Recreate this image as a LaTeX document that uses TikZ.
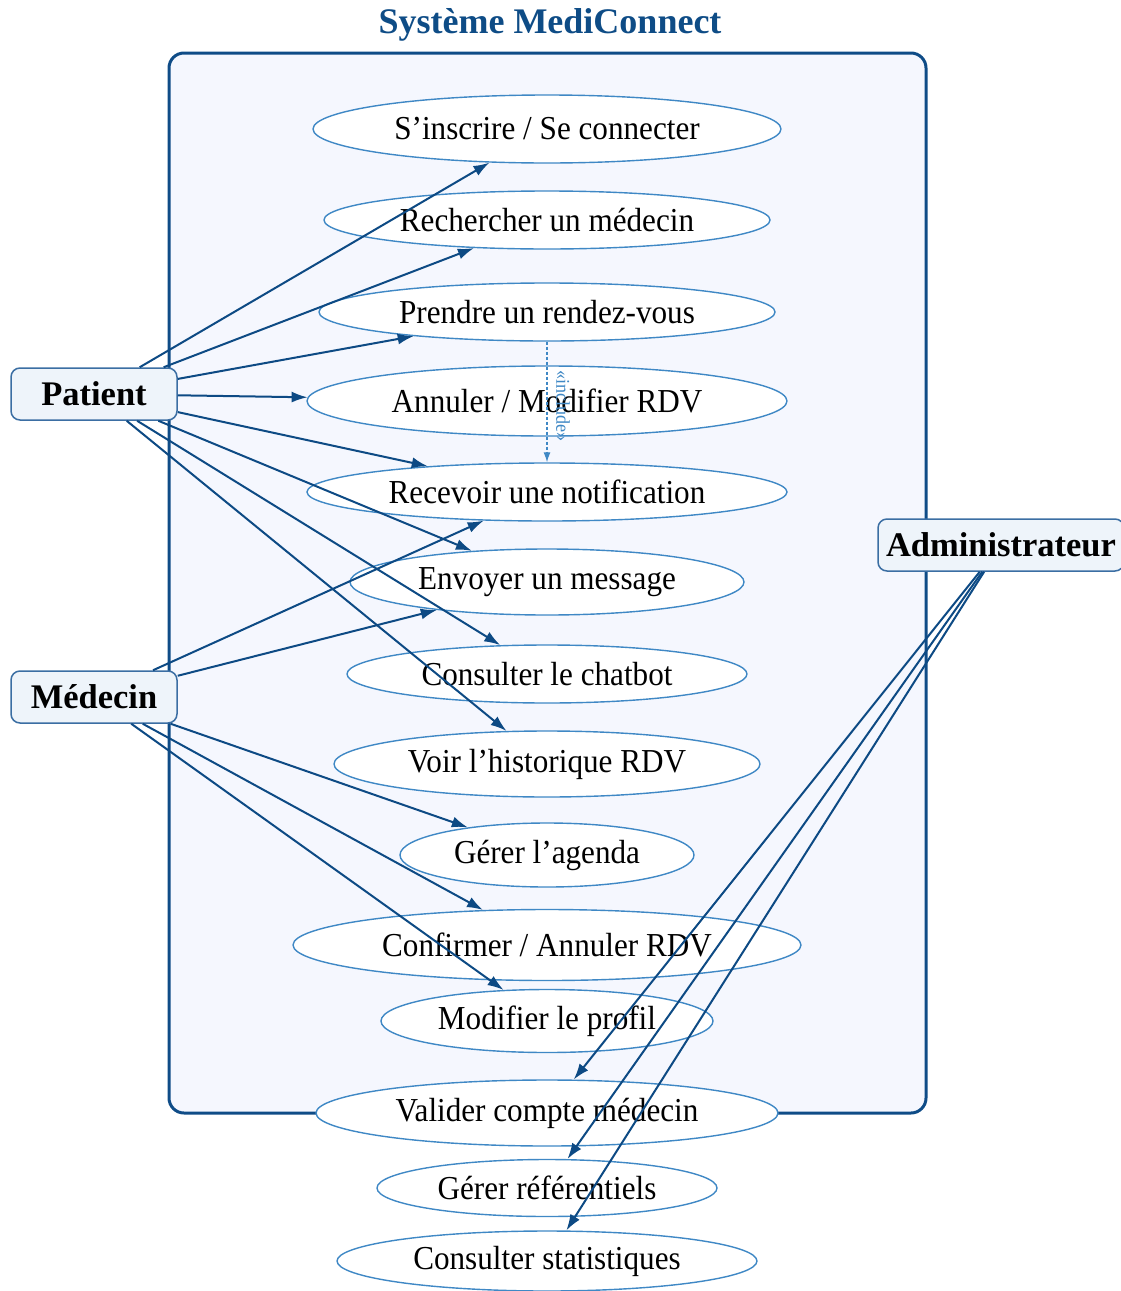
\documentclass[tikz,border=0pt]{standalone}
\usepackage{fontspec}
\setmainfont{Liberation Serif}
\newfontfamily\ucfont[FakeStretch=0.93]{Liberation Serif}
\usetikzlibrary{shapes.geometric,arrows.meta}

\definecolor{sysborder}{HTML}{0F4C87}
\definecolor{sysfill}{HTML}{F5F7FE}
\definecolor{ucborder}{HTML}{3F88C5}
\definecolor{linkcol}{HTML}{0D4A84}
\definecolor{actorfill}{HTML}{EEF4FA}
\definecolor{actorborder}{HTML}{3B6EA3}
\definecolor{titlecol}{HTML}{0E4C86}

\tikzset{
  sysbox/.style={draw=sysborder, fill=sysfill, line width=3pt, rounded corners=15pt,
    rectangle, inner sep=0pt},
  usecase/.style={ellipse, draw=ucborder, fill=white, line width=1.4pt, inner sep=0pt,
    font=\ucfont\fontsize{33.5}{36}\selectfont, text=black},
  actor/.style={rectangle, rounded corners=9pt, draw=actorborder, fill=actorfill,
    line width=1.5pt, minimum height=52pt, inner sep=0pt,
    font=\bfseries\fontsize{34.5}{36}\selectfont},
  assoc/.style={draw=linkcol, line width=2pt,
    -{Latex[length=16pt,width=11pt]}, shorten >=0pt},
  incl/.style={draw=ucborder, line width=1.2pt, dash pattern=on 3pt off 2pt,
    -{Latex[length=10pt,width=7pt]}}
}

\begin{document}
\begin{tikzpicture}[x=1pt,y=-1pt]
\useasboundingbox (0,0) rectangle (1121,1291);

% title
\node[font=\bfseries\fontsize{36}{40}\selectfont, text=titlecol] (title) at (550,25) {Système MediConnect};

% system boundary
\node[sysbox, minimum width=757pt, minimum height=1060pt] (sys) at (547.5,583) {};

% use cases
\node[usecase, minimum width=468pt, minimum height=68pt] (uc1)  at (547,129)  {S’inscrire / Se connecter};
\node[usecase, minimum width=446pt, minimum height=58pt] (uc2)  at (547,220)  {Rechercher un médecin};
\node[usecase, minimum width=456pt, minimum height=58pt] (uc3)  at (547,312)  {Prendre un rendez-vous};
\node[usecase, minimum width=480pt, minimum height=70pt] (uc4)  at (547,401)  {Annuler / Modifier RDV};
\node[usecase, minimum width=480pt, minimum height=58pt] (uc5)  at (547,492)  {Recevoir une notification};
\node[usecase, minimum width=394pt, minimum height=66pt] (uc6)  at (547,582)  {Envoyer un message};
\node[usecase, minimum width=400pt, minimum height=58pt] (uc7)  at (547,674)  {Consulter le chatbot};
\node[usecase, minimum width=426pt, minimum height=66pt] (uc8)  at (547,764)  {Voir l’historique RDV};
\node[usecase, minimum width=294pt, minimum height=64pt] (uc9)  at (547,855)  {Gérer l’agenda};
\node[usecase, minimum width=508pt, minimum height=71pt] (uc10) at (547,945)  {Confirmer / Annuler RDV};
\node[usecase, minimum width=332pt, minimum height=63pt] (uc11) at (547,1021) {Modifier le profil};
\node[usecase, minimum width=462pt, minimum height=66pt] (uc12) at (547,1113) {Valider compte médecin};
\node[usecase, minimum width=340pt, minimum height=57pt] (uc13) at (547,1188) {Gérer référentiels};
\node[usecase, minimum width=420pt, minimum height=60pt] (uc14) at (547,1261) {Consulter statistiques};

% actors
\node[actor, minimum width=166pt] (patient) at (94,394)  {Patient};
\node[actor, minimum width=166pt] (medecin) at (94,697)  {Médecin};
\node[actor, minimum width=246pt] (admin)   at (1001,545) {Administrateur};

% include relation
\draw[incl] (uc3.south) -- (uc5.north)
  node[midway, xshift=16pt, yshift=-4pt, rotate=-90, font=\ucfont\fontsize{19.5}{20}\selectfont, text=ucborder] (incllabel) {«include»};

% patient associations
\draw[assoc] (patient) -- (uc1);
\draw[assoc] (patient) -- (uc2);
\draw[assoc] (patient) -- (uc3);
\draw[assoc] (patient) -- (uc4);
\draw[assoc] (patient) -- (uc5);
\draw[assoc] (patient) -- (uc6);
\draw[assoc] (patient) -- (uc7);
\draw[assoc] (patient) -- (uc8);

% doctor associations
\draw[assoc] (medecin) -- (uc5);
\draw[assoc] (medecin) -- (uc6);
\draw[assoc] (medecin) -- (uc9);
\draw[assoc] (medecin) -- (uc10);
\draw[assoc] (medecin) -- (uc11);

% administrator associations
\draw[assoc] (admin) -- (uc12);
\draw[assoc] (admin) -- (uc13);
\draw[assoc] (admin) -- (uc14);
\end{tikzpicture}
\end{document}
